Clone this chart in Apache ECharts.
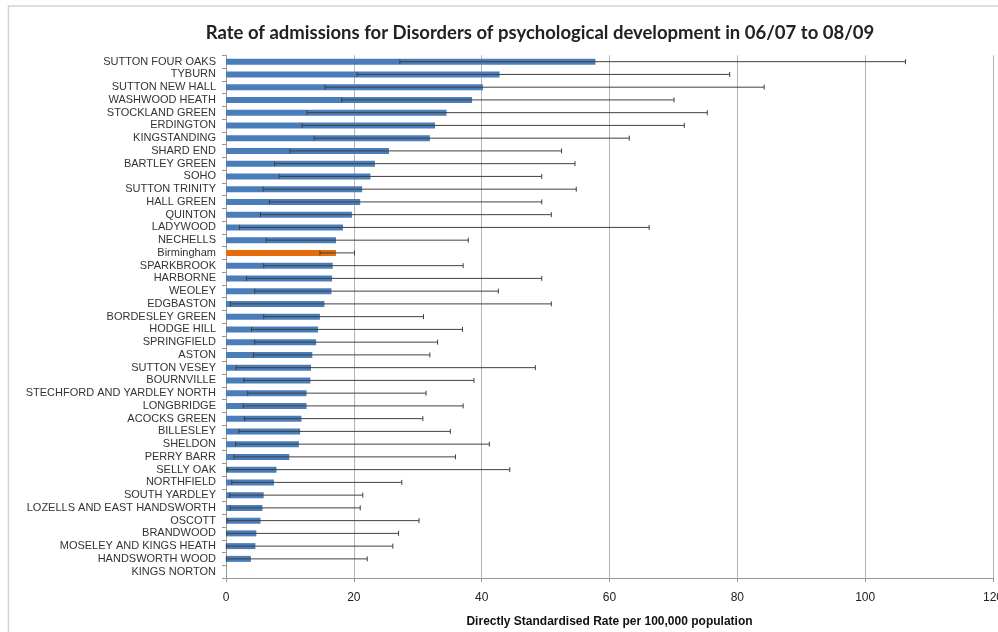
<!DOCTYPE html>
<html>
<head>
<meta charset="utf-8">
<script src="https://cdn.jsdelivr.net/npm/echarts@6/dist/echarts.min.js"></script>
<style>
  html, body { margin: 0; padding: 0; background: #fff; }
  #chart { width: 998px; height: 632px; }
</style>
</head>
<body>
<div id="chart"></div>
<script>
// wards, top to bottom
var wards = ['SUTTON FOUR OAKS', 'TYBURN', 'SUTTON NEW HALL', 'WASHWOOD HEATH', 'STOCKLAND GREEN', 'ERDINGTON',
  'KINGSTANDING', 'SHARD END', 'BARTLEY GREEN', 'SOHO', 'SUTTON TRINITY', 'HALL GREEN', 'QUINTON', 'LADYWOOD',
  'NECHELLS', 'Birmingham', 'SPARKBROOK', 'HARBORNE', 'WEOLEY', 'EDGBASTON', 'BORDESLEY GREEN', 'HODGE HILL',
  'SPRINGFIELD', 'ASTON', 'SUTTON VESEY', 'BOURNVILLE', 'STECHFORD AND YARDLEY NORTH', 'LONGBRIDGE', 'ACOCKS GREEN',
  'BILLESLEY', 'SHELDON', 'PERRY BARR', 'SELLY OAK', 'NORTHFIELD', 'SOUTH YARDLEY', 'LOZELLS AND EAST HANDSWORTH',
  'OSCOTT', 'BRANDWOOD', 'MOSELEY AND KINGS HEATH', 'HANDSWORTH WOOD', 'KINGS NORTON']

// directly standardised rate
var rates = [57.8, 42.8, 40.2, 38.5, 34.5, 32.7, 31.9, 25.5, 23.3, 22.6, 21.3, 21.0, 19.7, 18.3,
  17.2, 17.2, 16.7, 16.6, 16.5, 15.4, 14.7, 14.4, 14.1, 13.5, 13.3, 13.2, 12.6, 12.6, 11.8,
  11.6, 11.4, 9.9, 7.9, 7.5, 5.9, 5.7, 5.4, 4.75, 4.6, 3.9, 0]

// 95% confidence limits
var lower = [27.2, 20.5, 15.5, 18.1, 12.7, 11.9, 13.8, 10.0, 7.6, 8.3, 5.8, 6.8, 5.4, 2.1,
  6.3, 14.7, 5.9, 3.2, 4.5, 0.7, 5.9, 4.0, 4.5, 4.3, 1.6, 2.8, 3.4, 2.7, 2.9,
  2.0, 1.5, 1.25, 0.16, 0.9, 0.6, 0.65, 0.16, 0.1, 0.05, 0.05, null]
var upper = [106.3, 78.8, 84.2, 70.1, 75.3, 71.7, 63.1, 52.5, 54.6, 49.4, 54.8, 49.4, 50.9, 66.2,
  37.9, 20.1, 37.1, 49.4, 42.6, 50.9, 30.9, 37.0, 33.1, 31.9, 48.4, 38.8, 31.3, 37.1, 30.8,
  35.1, 41.2, 35.9, 44.4, 27.5, 21.4, 21.0, 30.2, 27.0, 26.1, 22.1, null]

var xTicks = [0, 20, 40, 60, 80, 100, 120]

var chart = echarts.init(document.getElementById('chart'))

var barData = rates.map(function (v, i) {
  if (wards[i] === 'Birmingham') {
    return { value: v, itemStyle: { color: '#e46c0a' } }
  }
  return v
})

var ciData = []
wards.forEach(function (w, i) {
  if (lower[i] !== null) {
    ciData.push([i, lower[i], upper[i]])
  }
})

chart.setOption({
  backgroundColor: '#fff',
  animation: false,
  title: {
    text: 'Rate of admissions for Disorders of psychological development in 06/07 to 08/09',
    left: 535,
    textAlign: 'center',
    top: 19,
    textStyle: {
      fontFamily: 'Lato',
      fontWeight: 'bold',
      fontSize: 18.5,
      color: '#222'
    }
  },
  graphic: [{
    // outer chart frame
    type: 'rect',
    shape: { x: 8.5, y: 6, width: 1100, height: 700 },
    style: { fill: null, stroke: '#d4d4d4', lineWidth: 1.5 },
    silent: true
  }],
  grid: {
    left: 226,
    top: 55.3,
    width: 767,
    height: 522.7,
    outerBoundsMode: 'none'
  },
  xAxis: {
    type: 'value',
    min: xTicks[0],
    max: xTicks[xTicks.length - 1],
    interval: 20,
    name: 'Directly Standardised Rate per 100,000 population',
    nameLocation: 'middle',
    nameGap: 38,
    nameTextStyle: {
      fontFamily: 'Liberation Sans',
      fontWeight: 'bold',
      fontSize: 12,
      color: '#111'
    },
    axisLine: { show: true, lineStyle: { color: '#999' } },
    axisTick: { show: true, length: 4, lineStyle: { color: '#999' } },
    axisLabel: {
      margin: 14,
      fontFamily: 'Liberation Sans',
      fontSize: 12,
      color: '#222'
    },
    splitLine: { show: true, lineStyle: { color: '#b4b4b4' } }
  },
  yAxis: {
    type: 'category',
    inverse: true,
    data: wards,
    axisLine: { show: true, lineStyle: { color: '#999' } },
    axisTick: { show: true, length: 4, lineStyle: { color: '#999' } },
    axisLabel: {
      interval: 0,
      margin: 10,
      fontFamily: 'Liberation Sans',
      fontSize: 11,
      color: '#333'
    }
  },
  series: [{
    name: 'Rate',
    type: 'bar',
    barWidth: 6,
    itemStyle: { color: '#4a7ebb' },
    data: barData
  }, {
    name: 'CI',
    type: 'custom',
    renderItem: function (params, api) {
      var idx = api.value(0)
      var lo = api.coord([api.value(1), idx])
      var hi = api.coord([api.value(2), idx])
      var h = 2.5
      var style = { stroke: '#404040', lineWidth: 1 }
      return {
        type: 'group',
        children: [
          { type: 'line', shape: { x1: lo[0], y1: lo[1], x2: hi[0], y2: hi[1] }, style: style },
          { type: 'line', shape: { x1: lo[0], y1: lo[1] - h, x2: lo[0], y2: lo[1] + h }, style: style },
          { type: 'line', shape: { x1: hi[0], y1: hi[1] - h, x2: hi[0], y2: hi[1] + h }, style: style }
        ]
      }
    },
    encode: { x: [1, 2], y: 0 },
    data: ciData,
    z: 3
  }]
})
</script>
</body>
</html>
